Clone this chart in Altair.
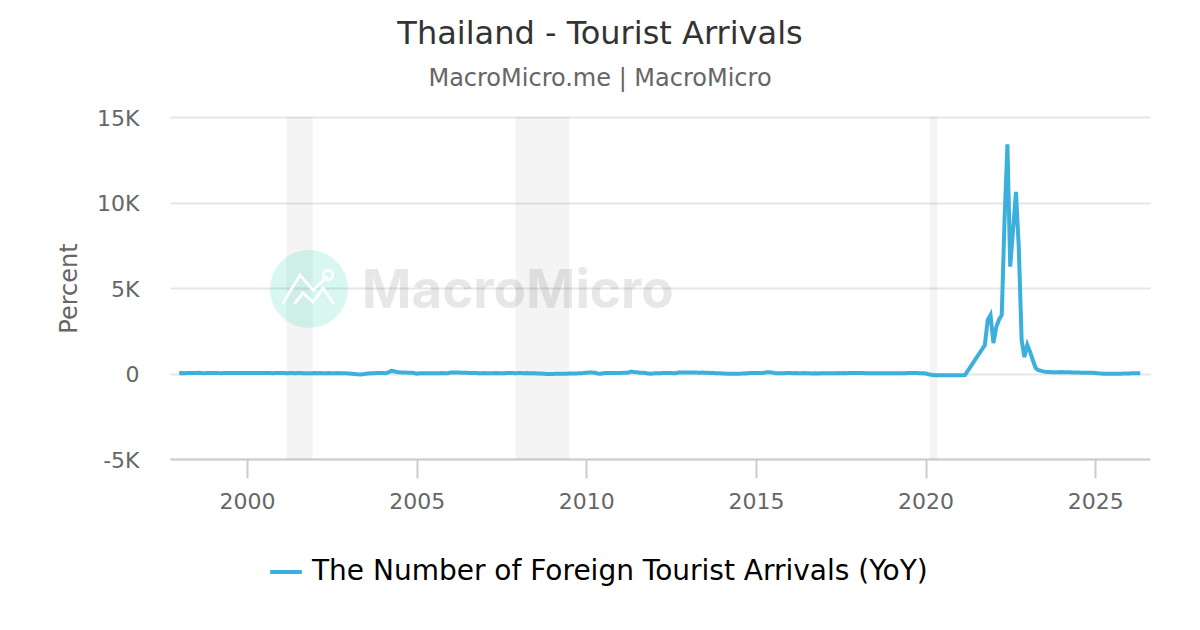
import altair as alt
import pandas as pd

TITLE = "Thailand - Tourist Arrivals"
SUBTITLE = "MacroMicro.me | MacroMicro"
SERIES = "The Number of Foreign Tourist Arrivals (YoY)"

# Monthly YoY values by year
y1998 = [20, 25, 15, 30, 35, 25, 30, 40, 25, 20, 35, 30]
y1999 = [30, 35, 25, 20, 30, 35, 25, 30, 35, 25, 30, 25]
y2000 = [30, 25, 35, 30, 25, 30, 35, 30, 25, 20, 25, 30]
y2001 = [25, 30, 20, 30, 25, 20, 30, 25, 15, 10, 15, 20]
y2002 = [25, 20, 25, 15, 20, 25, 20, 15, 25, 20, 15, 10]
y2003 = [5, -10, -30, -50, -55, -40, -10, 5, 15, 20, 25, 30]
y2004 = [30, 20, 60, 150, 130, 90, 70, 60, 55, 50, 40, 30]
y2005 = [-10, 10, 15, 20, 10, 15, 20, 15, 20, 25, 15, 20]
y2006 = [55, 60, 65, 60, 50, 45, 40, 35, 30, 25, 15, 20]
y2007 = [25, 20, 15, 20, 25, 20, 15, 20, 25, 30, 25, 20]
y2008 = [30, 25, 20, 25, 15, 20, 15, 5, -5, -15, -25, -30]
y2009 = [-25, -20, -15, -10, -20, -15, -5, 0, 5, 10, 20, 30]
y2010 = [50, 60, 65, 50, 5, -10, 15, 30, 25, 30, 35, 30]
y2011 = [35, 40, 50, 60, 110, 80, 70, 50, 45, 30, -5, -10]
y2012 = [10, 15, 20, 30, 25, 30, 25, 20, 25, 70, 60, 65]
y2013 = [60, 65, 55, 60, 50, 55, 45, 40, 30, 25, 15, 10]
y2014 = [5, -5, -10, -10, -15, -15, -10, -5, 5, 15, 25, 30]
y2015 = [25, 30, 35, 50, 80, 75, 50, 20, 10, 15, 20, 25]
y2016 = [25, 20, 25, 15, 20, 25, 20, 15, 5, 10, 5, 10]
y2017 = [10, 15, 10, 20, 15, 25, 20, 25, 20, 30, 25, 30]
y2018 = [25, 30, 25, 20, 15, 20, 15, 10, 10, 15, 20, 20]
y2019 = [15, 15, 20, 15, 20, 20, 25, 30, 30, 25, 20, 15]
y2020 = [5, -40, -75, -99, -99, -99, -99, -99, -99, -99, -99, -99]
y2021 = [-99, -99, -95, None, None, None, None, None, None, 1667, 3130, 3420]
y2022 = [1780, 2720, 3130, 3420, 8980, 13400, 6250, 8400, 10620, 7400, 1960, 960]
y2023 = [1670, 1250, 790, 320, 200, 150, 110, 90, 85, 80, 75, 80]
y2024 = [85, 80, 75, 70, 65, 60, 55, 50, 45, 40, 40, 45]
y2025 = [35, 10, 0, -10, -15, -15, -20, -15, -10, -10, -5, 5]
y2026 = [5, 10, 15, 20, 20]

years = {
    1998: y1998, 1999: y1999, 2000: y2000, 2001: y2001, 2002: y2002, 2003: y2003,
    2004: y2004, 2005: y2005, 2006: y2006, 2007: y2007, 2008: y2008, 2009: y2009,
    2010: y2010, 2011: y2011, 2012: y2012, 2013: y2013, 2014: y2014, 2015: y2015,
    2016: y2016, 2017: y2017, 2018: y2018, 2019: y2019, 2020: y2020, 2021: y2021,
    2022: y2022, 2023: y2023, 2024: y2024, 2025: y2025, 2026: y2026,
}

band_start = ["2001-03-01", "2007-12-01", "2020-02-15"]
band_end = ["2001-12-08", "2009-06-30", "2020-05-10"]

rows = []
for yr, vals in years.items():
    for m, v in enumerate(vals, start=1):
        if v is not None:
            rows.append({"date": f"{yr}-{m:02d}-01", "value": v, "series": SERIES})
df = pd.DataFrame(rows)
bands = pd.DataFrame({"start": band_start, "end": band_end})

x_scale = alt.Scale(domain=["1997-09-24", "2026-08-14"])
y_scale = alt.Scale(domain=[-5000, 15000], nice=False)

x_enc = alt.X(
    "date:T", scale=x_scale, title=None,
    axis=alt.Axis(
        format="%Y", tickCount={"interval": "year", "step": 5}, grid=False,
        domainColor="#cccccc", domainWidth=2, tickColor="#cccccc", tickWidth=2, tickSize=19,
        labelFontSize=22, labelColor="#666666", labelFont="DejaVu Sans", labelPadding=13,
        labelFlush=False, labelOverlap=False,
    ),
)
y_enc = alt.Y(
    "value:Q", scale=y_scale, title="Percent",
    axis=alt.Axis(
        values=[-5000, 0, 5000, 10000, 15000],
        labelExpr="datum.value === 0 ? '0' : (datum.value / 1000) + 'K'",
        grid=True, gridColor="#e6e6e6", gridWidth=2, domain=False, ticks=False,
        labelFontSize=22, labelColor="#666666", labelFont="DejaVu Sans", labelPadding=31,
        labelOffset=1,
        titleFontSize=24, titleColor="#666666", titleFont="DejaVu Sans", titleFontWeight="normal",
        titlePadding=15,
    ),
)

band_layer = alt.Chart(bands).mark_rect(color="#000000", opacity=0.045).encode(
    x=alt.X("start:T", scale=x_scale), x2="end:T"
)

# Watermark, placed in plot-area pixels
logo_circle = alt.Chart(pd.DataFrame({"k": [0]})).mark_circle(
    color="#2bd4b4", opacity=0.18, size=6100
).encode(x=alt.value(139), y=alt.value(172))
logo_text = alt.Chart(pd.DataFrame({"k": [0]})).mark_text(
    font="Inter", fontWeight="bold", fontSize=53, color="#000000", opacity=0.09,
    align="left", baseline="alphabetic",
).encode(x=alt.value(192), y=alt.value(191), text=alt.value("MacroMicro"))

logo_paths = [
    [(113, 186), (130, 158), (143, 173), (157, 160)],
    [(125, 186), (133, 176), (143, 185), (153, 171), (163, 186)],
]
logo_segments = []
for path in logo_paths:
    for (x0, y0), (x1, y1) in zip(path, path[1:]):
        logo_segments.append(
            alt.Chart(pd.DataFrame({"k": [0]})).mark_rule(
                color="#ffffff", strokeWidth=3, strokeCap="round", opacity=0.9
            ).encode(x=alt.value(x0), x2=alt.value(x1), y=alt.value(y0), y2=alt.value(y1))
        )
logo_dot = alt.Chart(pd.DataFrame({"k": [0]})).mark_point(
    color="#ffffff", strokeWidth=3, size=90, opacity=0.9, filled=False
).encode(x=alt.value(158), y=alt.value(158))

line_layer = alt.Chart(df).mark_line(strokeWidth=4, strokeJoin="miter").encode(
    x=x_enc, y=y_enc,
    color=alt.Color(
        "series:N", scale=alt.Scale(domain=[SERIES], range=["#3cb0dc"]), title=None,
        legend=alt.Legend(
            orient="none", legendX=98, legendY=437, symbolType="stroke", symbolSize=1000,
            symbolStrokeWidth=4, labelFontSize=28, labelColor="#000000", labelFont="DejaVu Sans",
            labelLimit=800, title=None, symbolOffset=0, labelOffset=8,
        ),
    ),
)

chart = alt.layer(
    band_layer, logo_circle, *logo_segments, logo_dot, logo_text, line_layer
).properties(
    width=980, height=342,
    padding={"left": 162, "top": 109, "right": 34, "bottom": 163},
    autosize=alt.AutoSizeParams(type="none"),
    title=alt.TitleParams(
        text=TITLE, subtitle=SUBTITLE, anchor="middle", dx=-60, offset=15,
        font="DejaVu Sans", fontSize=32, fontWeight="normal", color="#333333",
        subtitleFont="DejaVu Sans", subtitleFontSize=24, subtitleColor="#666666", subtitlePadding=16,
    ),
).configure_view(stroke=None)

chart.save("out.html", embed_options={"renderer": "svg", "actions": False})
